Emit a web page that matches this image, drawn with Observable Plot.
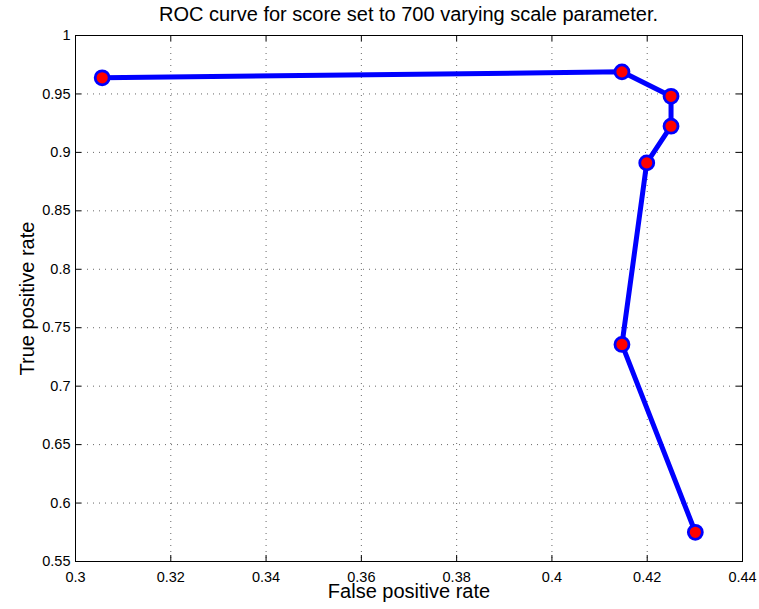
<!DOCTYPE html>
<html>
<head>
<meta charset="utf-8">
<script src="https://cdn.jsdelivr.net/npm/d3@7"></script>
<script src="https://cdn.jsdelivr.net/npm/@observablehq/plot@0.6"></script>
<style>
  body { margin: 0; background: #fff; font-family: "Liberation Sans", Arial, sans-serif; }
  #title { width: 759px; height: 26px; position: relative; }
  #title span { position: absolute; left: 75px; width: 667px; text-align: center; top: 3px; font-size: 20px; line-height: 23px; color: #000; white-space: nowrap; }
</style>
</head>
<body>
<div id="title"><span>ROC curve for score set to 700 varying scale parameter.</span></div>
<div id="chart"></div>
<script>
const fpr = [0.3056, 0.4147, 0.4250, 0.4250, 0.4199, 0.4147, 0.4301];
const tpr = [0.9638, 0.9689, 0.9480, 0.9224, 0.8910, 0.7357, 0.5750];
const xTicks = [0.3, 0.32, 0.34, 0.36, 0.38, 0.4, 0.42, 0.44];
const yTicks = [0.55, 0.6, 0.65, 0.7, 0.75, 0.8, 0.85, 0.9, 0.95, 1];

const data = fpr.map((x, i) => ({x, y: tpr[i]}));
const fmt = d => String(+d.toFixed(2));
const xDom = [0.3, 0.44], yDom = [0.55, 1];
const tx = (xDom[1] - xDom[0]) * 6 / 667; // ~6px in x units
const ty = (yDom[1] - yDom[0]) * 6 / 526; // ~6px in y units

const plot = Plot.plot({
  width: 759,
  height: 583,
  marginLeft: 75,
  marginRight: 17,
  marginTop: 9,
  marginBottom: 48,
  style: {fontFamily: "Liberation Sans, Arial, sans-serif", fontSize: "14.5px", color: "#000", background: "#fff"},
  x: {domain: xDom, ticks: xTicks, tickFormat: fmt},
  y: {domain: yDom, ticks: yTicks, tickFormat: fmt},
  marks: [
    Plot.gridX(xTicks.slice(1, -1), {stroke: "#000", strokeOpacity: 0.6, strokeDasharray: "1,5"}),
    Plot.gridY(yTicks.slice(1, -1), {stroke: "#000", strokeOpacity: 0.6, strokeDasharray: "1,5"}),
    Plot.ruleX(xTicks, {y1: yDom[0], y2: yDom[0] + ty, stroke: "#000"}),
    Plot.ruleX(xTicks, {y1: yDom[1], y2: yDom[1] - ty, stroke: "#000"}),
    Plot.ruleY(yTicks, {x1: xDom[0], x2: xDom[0] + tx, stroke: "#000"}),
    Plot.ruleY(yTicks, {x1: xDom[1], x2: xDom[1] - tx, stroke: "#000"}),
    Plot.frame({stroke: "#000", strokeWidth: 1}),
    Plot.axisX({ticks: xTicks, tickFormat: fmt, tickSize: 0, tickPadding: 10, fontSize: 14.5, label: null}),
    Plot.axisY({ticks: yTicks, tickFormat: fmt, tickSize: 0, tickPadding: 5, fontSize: 14.5, label: null}),
    Plot.line(data, {x: "x", y: "y", stroke: "#0000ff", strokeWidth: 5, strokeLinejoin: "round"}),
    Plot.dot(data, {x: "x", y: "y", r: 7, fill: "#ff0000", stroke: "#0000ff", strokeWidth: 2.8}),
    Plot.text(["False positive rate"], {frameAnchor: "bottom", dy: 36, fontSize: 20, fill: "#000"}),
    Plot.text(["True positive rate"], {frameAnchor: "left", textAnchor: "middle", dx: -48, rotate: -90, fontSize: 20, fill: "#000"})
  ]
});
document.getElementById("chart").appendChild(plot);
</script>
</body>
</html>
